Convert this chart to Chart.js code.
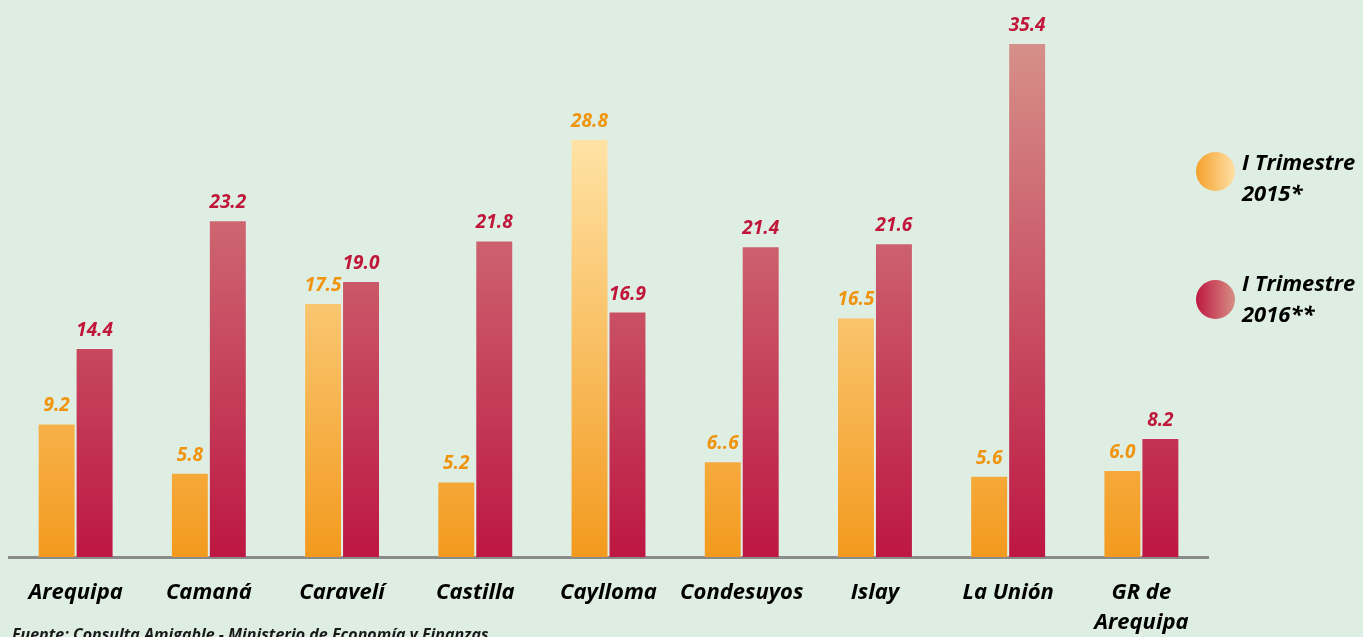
<!DOCTYPE html>
<html><head><meta charset="utf-8">
<script src="https://cdn.jsdelivr.net/npm/chart.js@4.4.1/dist/chart.umd.min.js"></script>
<style>html,body{margin:0;padding:0;background:#deeee3;}#wrap{width:1363px;height:637px;position:relative;}</style>
</head><body><div id="wrap"><canvas id="c"></canvas></div>
<script>
const categories = ["Arequipa","Camaná","Caravelí","Castilla","Caylloma","Condesuyos","Islay","La Unión",["GR de","Arequipa"]];
const values2015 = [9.2,5.8,17.5,5.2,28.8,6.6,16.5,5.6,6.0];
const values2016 = [14.4,23.2,19.0,21.8,16.9,21.4,21.6,35.4,8.2];
const labels2015 = ["9.2","5.8","17.5","5.2","28.8","6..6","16.5","5.6","6.0"];
const labels2016 = ["14.4","23.2","19.0","21.8","16.9","21.4","21.6","35.4","8.2"];
const seriesNames = [["I Trimestre","2015*"],["I Trimestre","2016**"]];
const sourceNote = "Fuente: Consulta Amigable - Ministerio de Economía y Finanzas";

const FONT = "'Open Sans', Lato, sans-serif";

function grad(ctx, area, c0, c1, y1) {
  if (!area) return c0;
  const g = ctx.createLinearGradient(0, area.bottom, 0, y1);
  g.addColorStop(0, c0); g.addColorStop(1, c1);
  return g;
}

const bgPlugin = {
  id: 'bg',
  beforeDraw(chart) {
    const c = chart.ctx; c.save(); c.fillStyle = '#deeee3';
    c.fillRect(0, 0, chart.width, chart.height); c.restore();
  }
};

const labelPlugin = {
  id: 'vals',
  afterDatasetsDraw(chart) {
    const c = chart.ctx; c.save();
    c.font = "italic bold 19px " + FONT;
    c.textAlign = 'center'; c.textBaseline = 'alphabetic';
    const sets = [[labels2015, '#f0940e'], [labels2016, '#c0163a']];
    sets.forEach((s, di) => {
      const meta = chart.getDatasetMeta(di);
      meta.data.forEach((el, i) => {
        c.fillStyle = s[1];
        c.fillText(s[0][i], el.x, el.y - 12);
      });
    });
    c.restore();
  }
};

const legendPlugin = {
  id: 'customLegend',
  afterDraw(chart) {
    const c = chart.ctx; c.save();
    const items = [
      {cy: 171.5, c0: '#f4a02a', c1: '#ffe0a6', t: seriesNames[0], ty: [164, 195]},
      {cy: 299.5, c0: '#be1842', c1: '#d68f84', t: seriesNames[1], ty: [285, 316]}
    ];
    items.forEach(it => {
      const g = c.createLinearGradient(1196, 0, 1235, 0);
      g.addColorStop(0, it.c0); g.addColorStop(1, it.c1);
      c.fillStyle = g; c.beginPath(); c.arc(1215.5, it.cy, 19.5, 0, Math.PI * 2); c.fill();
      c.fillStyle = '#000'; c.font = "italic bold 22px " + FONT;
      c.textAlign = 'left'; c.textBaseline = 'middle';
      c.fillText(it.t[0], 1242, it.ty[0]);
      c.fillText(it.t[1], 1242, it.ty[1]);
    });
    c.font = "italic bold 16px " + FONT; c.fillStyle = '#1a1a1a';
    c.textAlign = 'left'; c.textBaseline = 'top';
    c.fillText(sourceNote, 12, 627);
    c.restore();
  }
};

new Chart(document.getElementById('c'), {
  type: 'bar',
  data: {
    labels: categories,
    datasets: [
      {label: '2015', data: values2015,
       backgroundColor: (ctx) => grad(ctx.chart.ctx, ctx.chart.chartArea, '#f39a1e', '#ffe3a6', 139),
       borderColor: 'rgba(255,255,255,0.15)', borderWidth: 1, borderSkipped: 'bottom'},
      {label: '2016', data: values2016,
       backgroundColor: (ctx) => grad(ctx.chart.ctx, ctx.chart.chartArea, '#bd1742', '#d6908a', 43),
       borderColor: 'rgba(255,255,255,0.15)', borderWidth: 1, borderSkipped: 'bottom'}
    ]
  },
  options: {
    responsive: true, maintainAspectRatio: false, animation: false,
    layout: {padding: {left: 9, right: 155, top: 0, bottom: 0}},
    plugins: {legend: {display: false}, tooltip: {enabled: false}},
    datasets: {bar: {categoryPercentage: 0.57, barPercentage: 1.0}},
    scales: {
      y: {display: false, min: 0, max: 38.36},
      x: {
        grid: {display: false, drawTicks: false},
        border: {display: true, color: '#8a8a8a', width: 3},
        ticks: {color: '#000', font: {family: FONT, size: 22, style: 'italic', weight: 'bold', lineHeight: 1.35}, padding: 21, maxRotation: 0, autoSkip: false},
        afterFit(s) { s.height = 80; }
      }
    }
  },
  plugins: [bgPlugin, labelPlugin, legendPlugin]
});
</script></body></html>
